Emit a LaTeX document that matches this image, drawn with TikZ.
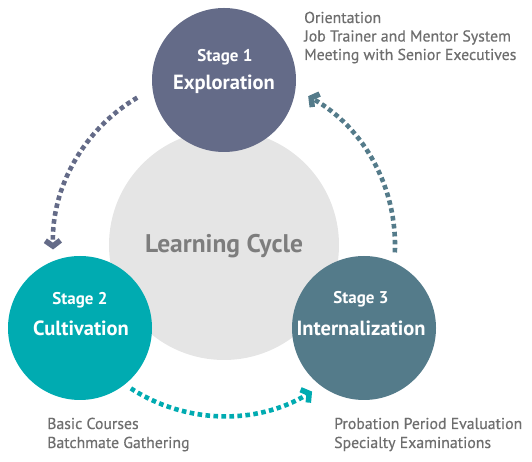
\documentclass[tikz,border=0pt]{standalone}
\usepackage{fontspec}
\setmainfont{PT Sans}
\newfontfamily\listfont{PT Sans}[FakeBold=0.5]
\usetikzlibrary{arrows.meta,calc}
\definecolor{cone}{HTML}{646B88}
\definecolor{ctwo}{HTML}{00ABB1}
\definecolor{cthree}{HTML}{547B8A}
\definecolor{cgray}{HTML}{E5E5E5}
\definecolor{ccycle}{HTML}{7D7D7D}
\definecolor{clist}{HTML}{6E6E6E}
\begin{document}
\begin{tikzpicture}[x=1pt,y=1pt,
  stagecirc/.style={circle,minimum size=144pt,inner sep=0pt},
  stagelbl/.style={text=white,font=\bfseries\fontsize{17}{17}\selectfont,anchor=base,inner sep=0pt},
  titlelbl/.style={text=white,font=\bfseries\fontsize{20.5}{20.5}\selectfont,anchor=base,inner sep=0pt},
  listlbl/.style={text=clist,font=\listfont\fontsize{15.8}{15.8}\selectfont,anchor=base west,inner sep=0pt},
  dotarc/.style={line width=4.6pt,dash pattern=on 4.6pt off 3.4pt,
    -{Straight Barb[length=5.5pt,width=15pt,line width=5.5pt]}}
]
\useasboundingbox (0,0) rectangle (532,462);
% central circle
\node[circle,fill=cgray,minimum size=230pt,inner sep=0pt] (cyc) at (224,217) {};
\node[text=ccycle,font=\bfseries\fontsize{25.5}{25.5}\selectfont,anchor=base,inner sep=0pt] (cyctxt) at (224,209) {Learning Cycle};
% stage circles
\node[stagecirc,fill=cone] (s1) at (224,382) {};
\node[stagecirc,fill=ctwo] (s2) at (80,134) {};
\node[stagecirc,fill=cthree] (s3) at (364,134) {};
% stage texts
\node[stagelbl] (s1a) at (225,400) {Stage 1};
\node[titlelbl] (s1b) at (224,372) {Exploration};
\node[stagelbl] (s2a) at (80,157) {Stage 2};
\node[titlelbl] (s2b) at (81,126) {Cultivation};
\node[stagelbl] (s3a) at (361,158) {Stage 3};
\node[titlelbl] (s3b) at (361,126) {Internalization};
% lists
\node[listlbl] (l1a) at (304,439) {Orientation};
\node[listlbl] (l1b) at (304,420.5) {Job Trainer and Mentor System};
\node[listlbl] (l1c) at (304,402) {Meeting with Senior Executives};
\node[listlbl] (l2a) at (47,33) {Basic Courses};
\node[listlbl] (l2b) at (47,14) {Batchmate Gathering};
\node[listlbl] (l3a) at (334,33) {Probation Period Evaluation};
\node[listlbl] (l3b) at (334,14) {Specialty Examinations};
% arcs
\coordinate (a1s) at ($(cyc.center)+(120.5:171)$);
\coordinate (a2s) at ($(cyc.center)+(237:171)$);
\coordinate (a3s) at ($(cyc.center)+(-2.5:171)$);
\draw[dotarc,cone] (a1s) arc[start angle=120.5,end angle=181.5,radius=171];
\draw[dotarc,ctwo] (a2s) arc[start angle=237,end angle=301,radius=171];
\draw[dotarc,cthree] (a3s) arc[start angle=-2.5,end angle=60.5,radius=171];
\end{tikzpicture}
\end{document}
